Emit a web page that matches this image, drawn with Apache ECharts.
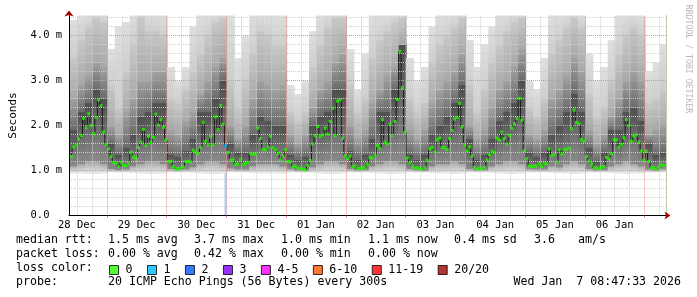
<!DOCTYPE html>
<html><head><meta charset="utf-8">
<script src="https://cdn.jsdelivr.net/npm/echarts@6/dist/echarts.min.js"></script>
<style>html,body{margin:0;padding:0;background:#fff}#c{width:697px;height:297px}</style>
</head><body><div id="c"></div>
<script>
// ---- axis ticks / labels (hours since 28 Dec 00:00) ----
const dayLabels = ['28 Dec','29 Dec','30 Dec','31 Dec','01 Jan','02 Jan','03 Jan','04 Jan','05 Jan','06 Jan'];
const dayNoonHours = [12,36,60,84,108,132,156,180,204,228];
const midnightHours = [24,48,72,96,120,144,168,192,216,240];
const yTickValues = [0,1,2,3,4];
const yTickLabels = ['0.0','1.0 m','2.0 m','3.0 m','4.0 m'];

// ---- median RTT (ms), one value per hour, first centred at 09:42 28 Dec ----
const medianStartHour = 9.7;
const medianRtt = [
 1.31,1.52,1.57,1.70,1.78,2.16,1.95,2.26,2.00,1.82,2.18,2.57,2.44,1.85,1.58,1.48,1.31,1.18,1.15,1.08,1.18,1.11,1.11,1.16,
 1.40,1.30,1.28,1.51,1.63,1.91,1.56,1.76,1.62,1.74,2.25,2.01,2.13,1.96,1.68,1.20,1.20,1.09,1.04,1.04,1.04,1.08,1.20,1.20,
 1.19,1.45,1.41,1.38,1.51,2.07,1.65,1.57,1.75,1.57,2.19,1.91,2.44,2.03,1.55,1.40,1.23,1.23,1.13,1.15,1.24,1.13,1.15,1.18,
 1.38,1.36,1.36,1.94,1.71,1.47,1.46,1.52,1.76,1.51,1.46,1.38,1.24,1.32,1.46,1.20,1.19,1.08,1.10,1.06,1.04,1.03,1.01,1.11,
 1.22,1.59,1.77,1.98,1.76,1.79,1.94,1.81,2.09,2.38,1.78,2.54,2.57,1.72,1.33,1.26,1.32,1.08,1.10,1.04,1.04,1.06,1.06,1.14,
 1.28,1.28,1.34,1.55,1.49,2.13,1.63,1.59,2.03,1.78,2.09,2.58,3.65,2.84,1.85,1.28,1.17,1.10,1.06,1.06,1.04,1.02,1.07,1.23,
 1.48,1.51,1.42,1.68,1.72,1.51,1.51,1.47,1.71,1.89,2.14,2.18,2.49,1.97,1.56,1.44,1.52,1.32,1.07,1.04,1.04,1.04,1.07,1.24,
 1.35,1.43,1.40,1.72,1.68,1.85,1.71,1.59,1.78,1.94,2.04,2.16,2.60,2.12,1.44,1.26,1.10,1.09,1.10,1.10,1.15,1.09,1.15,1.15,
 1.48,1.33,1.35,1.19,1.46,1.37,1.46,1.47,1.50,1.93,2.34,2.07,2.04,1.69,1.65,1.31,1.21,1.14,1.06,1.06,1.04,1.07,1.09,1.29,
 1.26,1.37,1.68,1.68,1.52,1.58,1.73,2.13,2.00,1.65,1.76,1.79,1.63,1.43,1.23,1.43,1.20,1.06,1.06,1.03,1.07,1.12,1.12
];
// [median index, pings lost of 20]
const lossEvents = [[62, 1]];

// ---- smoke (ping spread, ms), one column per 3 hours ----
const smokeStartHour = 9.2, smokeStepHours = 3;
const smokeMin = [
 0.94,0.94,0.93,0.93,0.94,0.96,0.96,0.96,0.95,0.94,0.93,0.93,0.94,0.96,0.96,0.96,
 0.95,0.94,0.93,0.93,0.94,0.96,0.96,0.96,0.95,0.94,0.94,0.94,0.94,0.96,0.96,0.96,
 0.95,0.94,0.93,0.93,0.94,0.96,0.96,0.96,0.95,0.94,0.93,0.93,0.94,0.96,0.96,0.96,
 0.95,0.94,0.94,0.93,0.94,0.96,0.96,0.96,0.95,0.94,0.93,0.93,0.94,0.96,0.96,0.96,
 0.95,0.95,0.94,0.93,0.94,0.96,0.96,0.96,0.95,0.94,0.93,0.94,0.94,0.96,0.96,0.96];
const smokeLow = [
 1.10,1.15,1.20,1.20,1.15,1.04,1.02,1.03,1.10,1.15,1.20,1.20,1.15,1.04,1.01,1.03,
 1.08,1.15,1.20,1.20,1.15,1.05,1.03,1.03,1.10,1.15,1.15,1.15,1.10,1.04,1.01,1.00,
 1.08,1.15,1.20,1.20,1.15,1.04,1.01,1.02,1.10,1.15,1.20,1.20,1.15,1.04,1.01,1.00,
 1.10,1.15,1.15,1.20,1.15,1.04,1.01,1.02,1.10,1.15,1.20,1.20,1.15,1.04,1.03,1.03,
 1.10,1.08,1.15,1.20,1.15,1.04,1.01,1.02,1.10,1.15,1.20,1.15,1.10,1.03,1.01,1.04];
const smokeDark = [
 1.9,2.3,2.5,2.8,2.6,1.6,1.35,1.5,1.8,2.2,2.3,2.5,2.5,1.35,1.3,1.45,
 1.7,2.3,2.3,2.6,3.0,1.6,1.4,1.4,1.8,2.2,2.1,2.0,2.0,1.35,1.25,1.3,
 2.0,2.2,2.3,2.8,2.8,1.45,1.25,1.35,1.7,2.3,2.3,2.8,3.8,1.35,1.25,1.35,
 1.8,2.0,2.2,2.5,2.9,1.7,1.25,1.35,1.7,2.1,2.3,2.5,3.0,1.4,1.3,1.4,
 1.8,2.0,2.3,2.7,2.3,1.5,1.2,1.4,1.9,1.9,2.3,2.4,2.1,1.6,1.35,1.4];
const smokeMid = [
 2.6,2.9,3.1,3.4,3.3,2.0,1.8,2.3,2.6,3.0,3.0,3.2,3.2,1.9,1.8,2.1,
 2.3,2.7,3.0,3.3,3.5,2.0,1.7,2.0,2.6,3.0,2.9,2.8,2.9,1.8,1.6,1.8,
 2.4,2.8,3.0,3.4,3.6,2.0,1.7,1.9,2.5,2.8,3.1,3.3,3.8,1.9,1.7,1.9,
 2.5,2.8,3.0,3.2,3.6,2.0,1.7,1.9,2.4,2.8,3.0,3.3,3.7,1.8,1.7,1.9,
 2.6,2.8,3.1,3.5,3.2,1.9,1.6,1.8,2.2,2.6,3.0,3.2,3.0,1.8,1.9,2.0];
const smokeLight = [
 3.5,3.9,4.2,4.4,4.3,2.9,2.4,3.2,3.8,4.4,4.1,4.1,4.0,2.6,2.5,2.8,
 3.2,3.6,4.0,4.3,4.4,3.0,2.4,3.0,3.6,4.1,4.0,3.8,3.8,2.3,2.1,2.3,
 3.3,3.8,4.2,4.4,4.4,2.9,2.3,2.6,3.5,3.9,4.1,4.3,4.4,2.6,2.3,2.5,
 3.4,3.8,4.0,4.2,4.4,2.9,2.3,2.8,3.4,3.8,4.1,4.3,4.4,2.4,2.2,2.6,
 3.6,3.9,4.2,4.4,4.2,2.7,2.2,2.4,3.0,3.6,4.0,4.2,4.0,2.5,2.6,2.8];
const smokeMax = [
 4.35,4.5,4.5,4.5,4.5,3.7,4.2,4.3,4.5,4.5,4.5,4.5,4.5,3.3,3.0,3.3,
 4.2,4.5,4.5,4.5,4.5,4.5,3.5,4.0,4.5,4.5,4.5,4.5,4.5,2.9,2.7,3.0,
 4.1,4.5,4.5,4.5,4.5,3.7,2.8,3.6,4.5,4.5,4.5,4.5,4.5,3.5,3.0,3.3,
 4.2,4.5,4.5,4.5,4.5,3.9,3.3,3.8,4.2,4.5,4.5,4.5,4.5,3.0,2.8,3.5,
 4.5,4.5,4.5,4.5,4.5,3.6,3.0,3.3,3.9,4.5,4.5,4.5,4.5,3.2,3.4,3.8];

const lossClasses = ['0','1','2','3','4-5','6-10','11-19','20/20'];
const lossColors = ['#26ff00','#00b8ff','#0059ff','#7e00ff','#ff00ff','#ff5500','#ff0000','#a10000'];

// ---- layout / style constants ----
const X_MIN = 8.8, X_MAX = 248.8, Y_MAX = 200 / 45;
const MONO = '"DejaVu Sans Mono", monospace';
const MAJOR_GRID = {color: '#f08a8a', type: [1, 1], width: 1};
const MINOR_GRID = {color: '#cdcdcd', type: [1, 1], width: 1};
// [bottom colour, top colour] for each smoke band, lowest band first
const bandGradients = [
  ['#ececec', '#a4a4a4'],
  ['#8a8a8a', '#4e4e4e'],
  ['#6a6a6a', '#a2a2a2'],
  ['#a8a8a8', '#c8c8c8'],
  ['#cecece', '#dfdfdf']
];
const bandFills = bandGradients.map(([lo, hi]) => new echarts.graphic.LinearGradient(0, 1, 0, 0,
  [{offset: 0, color: lo}, {offset: 1, color: hi}]));

// grid positions for the library (6 h minor, 0.2 ms minor)
const sixHourTicks = [];
for (let h = 12; h < X_MAX; h += 6) if (h % 24 !== 0) sixHourTicks.push(h);
const yMinorTicks = [];
for (let k = 1; k * 0.2 < Y_MAX; k++) if (k % 5 !== 0) yMinorTicks.push(+(k * 0.2).toFixed(1));

const gridLines = []
  .concat(sixHourTicks.map(h => ({xAxis: h, lineStyle: MINOR_GRID})))
  .concat(yMinorTicks.map(v => ({yAxis: v, lineStyle: MINOR_GRID})))
  .concat(midnightHours.map(h => ({xAxis: h, lineStyle: MAJOR_GRID})))
  .concat(yTickValues.filter(v => v > 0).map(v => ({yAxis: v, lineStyle: MAJOR_GRID})));

const lossAt = {};
lossEvents.forEach(([i, n]) => { lossAt[i] = n; });
function lossClassIndex(n) {
  if (n === 0) return 0; if (n <= 3) return n; if (n <= 5) return 4;
  if (n <= 10) return 5; if (n <= 19) return 6; return 7;
}
const medianPts = medianRtt.map((v, i) => [medianStartHour + i, v]);
const ptsByClass = lossClasses.map(() => []);
medianRtt.forEach((v, i) => ptsByClass[lossClassIndex(lossAt[i] || 0)].push([medianStartHour + i, v]));

// loss stripe: from the axis up to the bottom of the smoke at that time
const lossStripes = lossEvents.map(([i]) => {
  const t = medianStartHour + i;
  const b = Math.floor((t - smokeStartHour) / smokeStepHours);
  return [t, smokeMin[b]];
});

const smokeData = smokeMax.map((_, b) => [
  smokeStartHour + b * smokeStepHours, smokeStartHour + (b + 1) * smokeStepHours,
  smokeMin[b], smokeLow[b], smokeDark[b], smokeMid[b], smokeLight[b], smokeMax[b]
]);

const chart = echarts.init(document.getElementById('c'), null, {renderer: 'canvas'});

const txt = (x, y, s) => ({type: 'text', left: x, top: y,
  style: {text: s, font: '11.6px ' + MONO, fill: '#000'}});

const option = {
  animation: false,
  backgroundColor: '#ffffff',
  grid: {left: 66.5, top: 15.5, width: 600, height: 200, containLabel: false},
  legend: {
    data: lossClasses, left: 109, top: 264, padding: 0, orient: 'horizontal',
    itemWidth: 9, itemHeight: 9, itemGap: 14.5, icon: 'rect', selectedMode: false,
    itemStyle: {borderColor: '#000', borderWidth: 1},
    textStyle: {fontFamily: MONO, fontSize: 11.6, color: '#000', padding: [0, 0, 0, 2]}
  },
  xAxis: [
    {
      type: 'value', min: X_MIN, max: X_MAX, position: 'bottom', z: 6,
      axisLine: {show: true, onZero: false, lineStyle: {color: '#000', width: 1}},
      axisTick: {show: true, customValues: midnightHours, length: 2, lineStyle: {color: '#e07070'}},
      axisLabel: {customValues: dayNoonHours, formatter: v => dayLabels[dayNoonHours.indexOf(v)] || '',
        fontFamily: MONO, fontSize: 10.5, color: '#000', margin: 4},
      splitLine: {show: false}
    },
    {
      type: 'value', min: X_MIN, max: X_MAX, position: 'bottom', z: 6,
      axisLine: {show: true, onZero: false, symbol: ['none', 'arrow'], symbolSize: [6, 6], symbolOffset: [0, 4],
        lineStyle: {color: '#a00000', width: 0}},
      axisTick: {show: false}, axisLabel: {show: false}, splitLine: {show: false}
    }
  ],
  yAxis: [
    {
      type: 'value', min: 0, max: Y_MAX, position: 'left', z: 6,
      axisLine: {show: true, onZero: false, lineStyle: {color: '#000', width: 1}},
      axisTick: {show: false, customValues: yTickValues},
      axisLabel: {customValues: yTickValues, formatter: v => yTickLabels[yTickValues.indexOf(v)] || '',
        align: 'left', margin: 38.5, fontFamily: MONO, fontSize: 10.5, color: '#000'},
      splitLine: {show: false},
      name: 'Seconds', nameLocation: 'middle', nameGap: 50, nameRotate: 90,
      nameTextStyle: {fontFamily: MONO, fontSize: 11, color: '#000'}
    },
    {
      type: 'value', min: 0, max: Y_MAX, position: 'left', z: 6,
      axisLine: {show: true, onZero: false, symbol: ['none', 'arrow'], symbolSize: [7, 6], symbolOffset: [0, 5],
        lineStyle: {color: '#a00000', width: 0}},
      axisTick: {show: false}, axisLabel: {show: false}, splitLine: {show: false}
    },
    {
      type: 'value', min: 0, max: Y_MAX, position: 'right', z: 6,
      axisLine: {show: true, lineStyle: {color: '#c8c8a8', width: 1}},
      axisTick: {show: false}, axisLabel: {show: false}, splitLine: {show: false}
    }
  ],
  graphic: [
    txt(16, 234, 'median rtt:'), txt(108, 234, '1.5 ms avg'), txt(194, 234, '3.7 ms max'),
    txt(281, 234, '1.0 ms min'), txt(368, 234, '1.1 ms now'), txt(454, 234, '0.4 ms sd'),
    txt(534, 234, '3.6'), txt(578, 234, 'am/s'),
    txt(16, 248, 'packet loss:'), txt(108, 248, '0.00 % avg'), txt(194, 248, '0.42 % max'),
    txt(281, 248, '0.00 % min'), txt(368, 248, '0.00 % now'),
    txt(16, 262, 'loss color:'),
    txt(16, 276, 'probe:'), txt(108, 276, '20 ICMP Echo Pings (56 Bytes) every 300s'),
    {type: 'text', right: 16, top: 276, style: {text: 'Wed Jan  7 08:47:33 2026', font: '11.6px ' + MONO, fill: '#000'}},
    {type: 'text', x: 688, y: 59, rotation: -Math.PI / 2,
      style: {text: 'RRDTOOL / TOBI OETIKER', font: '8.2px ' + MONO, fill: '#b8b8b8', align: 'center', verticalAlign: 'middle'}}
  ],
  series: [
    {
      name: 'smoke', type: 'custom', xAxisIndex: 0, yAxisIndex: 0, z: 2, silent: true, clip: true,
      encode: {x: [0, 1], y: [2, 3, 4, 5, 6, 7]},
      data: smokeData,
      renderItem: function (params, api) {
        const t0 = api.value(0), t1 = api.value(1);
        const b = [api.value(2), api.value(3), api.value(4), api.value(5), api.value(6), api.value(7)];
        const children = [];
        for (let k = 0; k < 5; k++) {
          const pTop = api.coord([t0, b[k + 1]]);
          const pBot = api.coord([t1, b[k]]);
          children.push({
            type: 'rect',
            shape: {x: pTop[0], y: pTop[1], width: pBot[0] - pTop[0] + 0.6, height: pBot[1] - pTop[1] + 0.3},
            style: {fill: bandFills[k]}
          });
        }
        return {type: 'group', children: children};
      }
    },
    {
      name: 'grid', type: 'line', xAxisIndex: 0, yAxisIndex: 0, z: 3, silent: true,
      data: [], showSymbol: false,
      markLine: {silent: true, symbol: ['none', 'none'], label: {show: false}, animation: false,
        emphasis: {disabled: true}, data: gridLines}
    },
    {
      name: 'loss', type: 'bar', xAxisIndex: 0, yAxisIndex: 0, z: 3.5, silent: true,
      barWidth: 2.5, itemStyle: {color: '#a8dcf4'},
      data: lossStripes
    },
    {
      name: 'median', type: 'line', xAxisIndex: 0, yAxisIndex: 0, z: 4, silent: true,
      step: 'middle', showSymbol: false, symbol: 'none',
      lineStyle: {color: '#1a1a1a', width: 1},
      data: medianPts
    }
  ].concat(lossClasses.map((name, k) => ({
    name: name, type: 'scatter', xAxisIndex: 0, yAxisIndex: 0, z: 5, silent: true,
    symbol: 'rect', symbolSize: [3, 3],
    itemStyle: {color: lossColors[k]},
    data: ptsByClass[k]
  })))
};
chart.setOption(option);
</script>
</body></html>
